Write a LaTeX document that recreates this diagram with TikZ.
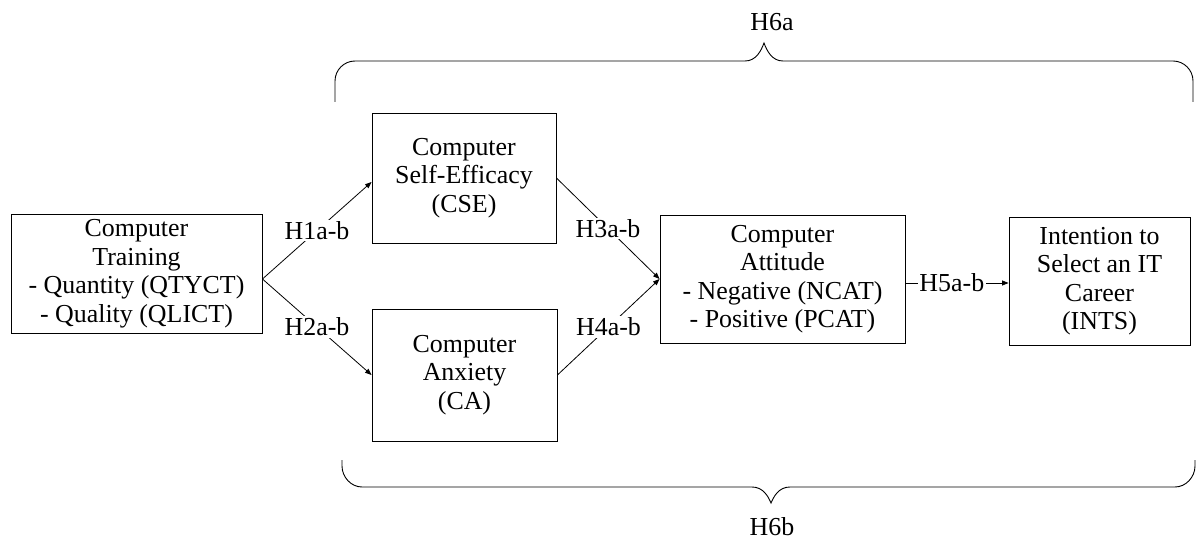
\documentclass[tikz,border=0pt]{standalone}
\usepackage{fontspec}
\setmainfont{Liberation Serif}
\usetikzlibrary{arrows.meta,calc}

\begin{document}
\begin{tikzpicture}[x=1bp,y=-1bp,
  txt/.style={font=\fontsize{26}{28.6}\selectfont},
  box/.style={txt, draw, line width=0.9bp, align=center, inner sep=0pt},
  lab/.style={txt, fill=white, inner sep=1.5bp},
  link/.style={line width=0.8bp, -{Triangle[length=6.5bp,width=5bp]}},
  brace/.style={line width=0.9bp}]
\useasboundingbox (0,0) rectangle (1196,540);

% construct boxes
\node[box, minimum width=251bp, minimum height=119bp] (train) at (136.5,273.5)
  {Computer\\Training\\- Quantity (QTYCT)\\- Quality (QLICT)};
\node[box, minimum width=184bp, minimum height=130bp] (cse) at (464,178)
  {Computer\\Self-Efficacy\\(CSE)};
\node[box, minimum width=185bp, minimum height=132bp] (ca) at (464.5,375)
  {Computer\\Anxiety\\(CA)};
\node[box, minimum width=245bp, minimum height=128bp] (att) at (782.5,279)
  {Computer\\Attitude\\- Negative (NCAT)\\- Positive (PCAT)};
\node[box, minimum width=181bp, minimum height=128bp] (ints) at (1099.5,281)
  {Intention to\\Select an IT\\Career\\(INTS)};

% fork and merge points
\coordinate (fork) at ($(train.east)+(0,5.5)$);
\coordinate (merge) at (att.west);

% hypothesised paths
\draw[link] (fork) -- node[lab] {H1a-b} ($(cse.west)+(0,4)$);
\draw[link] (fork) -- node[lab] {H2a-b} (ca.west);
\draw[link] (cse.east) -- node[lab] {H3a-b} (merge);
\draw[link] (ca.east) -- node[lab] {H4a-b} (merge);
\draw[link] ($(att.east)+(0,4)$) -- node[lab, pos=0.45] {H5a-b} ($(ints.west)+(0,2)$);

% upper brace (H6a)
\draw[brace] (335,102) -- (335,81)
  .. controls (335,70) and (344,61) .. (355,61) -- (745,61)
  .. controls (756,61) and (761,51) .. (764,43)
  .. controls (767,51) and (772,61) .. (783,61) -- (1173,61)
  .. controls (1184,61) and (1193,70) .. (1193,81) -- (1193,102);
\node[txt] (h6a) at (772,22) {H6a};

% lower brace (H6b)
\draw[brace] (342,460) -- (342,466)
  .. controls (342,477) and (351,487) .. (362,487) -- (752,487)
  .. controls (763,487) and (768,496) .. (771,503)
  .. controls (774,496) and (779,487) .. (790,487) -- (1175,487)
  .. controls (1186,487) and (1195,477) .. (1195,466) -- (1195,460);
\node[txt] (h6b) at (772,527) {H6b};
\end{tikzpicture}
\end{document}
